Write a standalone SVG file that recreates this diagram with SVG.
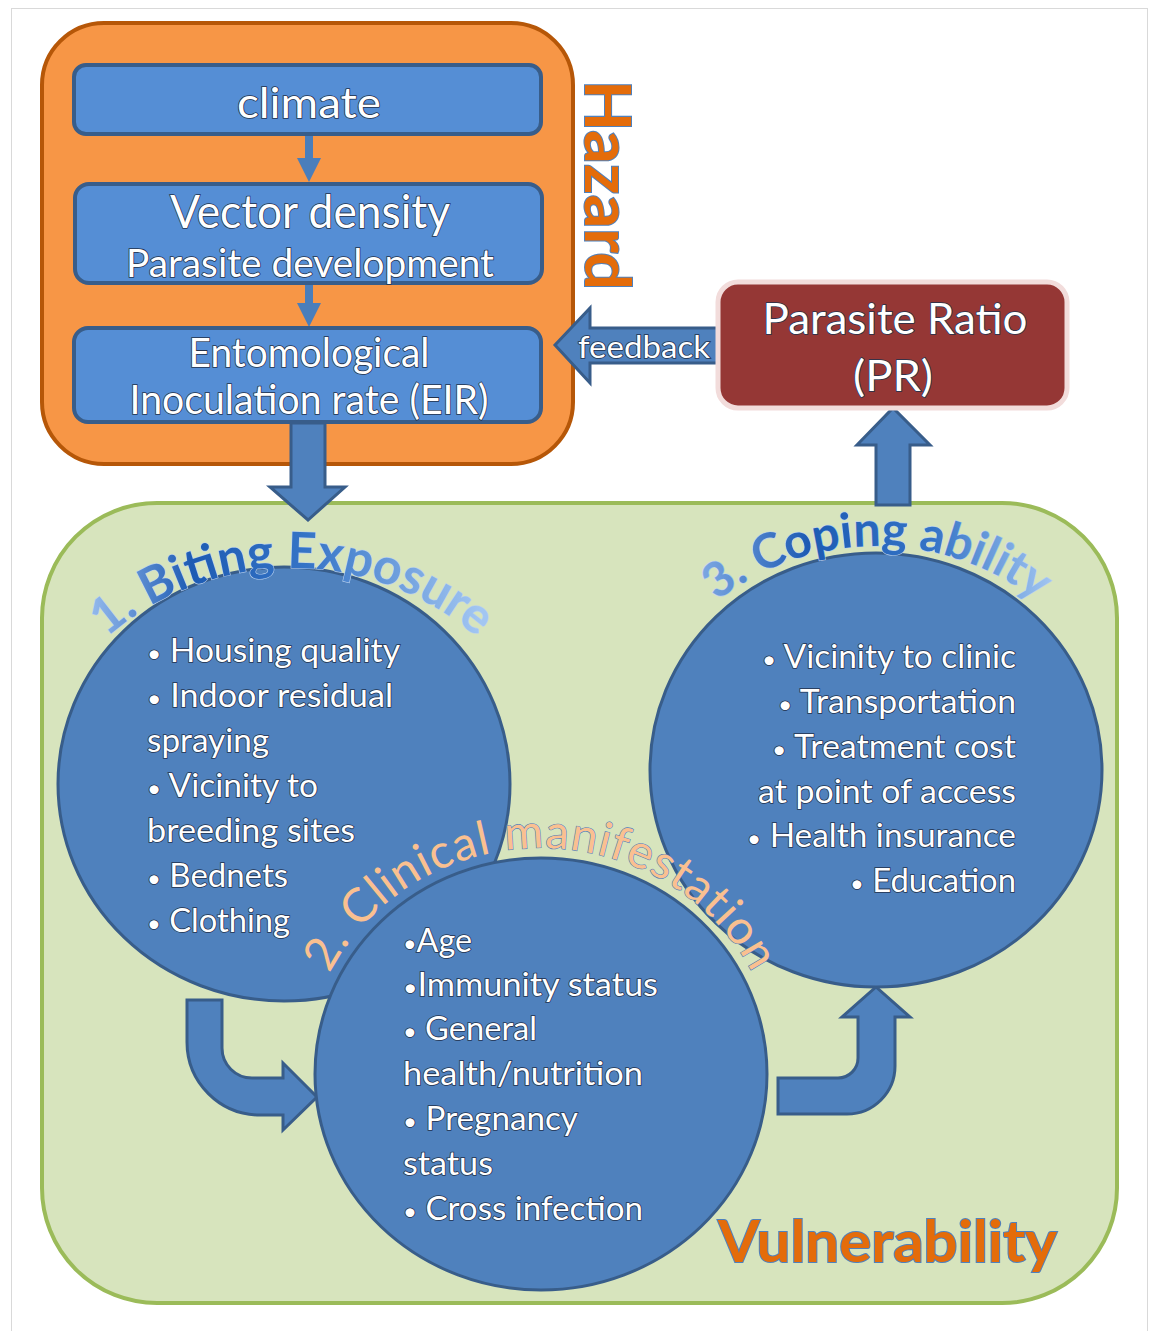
<svg xmlns="http://www.w3.org/2000/svg" width="1149" height="1331" viewBox="0 0 1149 1331">
  <defs>
    <style>
      text { font-family: Lato, "Open Sans", "Liberation Sans", sans-serif; }
      .frame { fill: #ffffff; stroke: #d9d9d9; stroke-width: 1; }
      .hazard-bg { fill: #f79646; stroke: #b65708; stroke-width: 4; }
      .vuln-bg { fill: #d7e4bd; stroke: #9bbb59; stroke-width: 4; }
      .box { fill: #558ed5; stroke: #385d8a; stroke-width: 4; }
      .circle { fill: #4f81bd; stroke: #385d8a; stroke-width: 3; }
      .pr { fill: #953735; stroke: #f2dcdb; stroke-width: 5; }
      .fat { fill: #4f81bd; stroke: #385d8a; stroke-width: 3; stroke-linejoin: miter; }
      .thin { stroke: #4a7ebb; stroke-width: 8; fill: none; }
      .w { fill: #ffffff; stroke: #22324d; stroke-width: 1.6; paint-order: stroke; }
      .dot { font-size: 24px; }
      .big { fill: #e46c0a; stroke: #4f81bd; stroke-width: 2; paint-order: stroke; font-weight: 700; }
      .arcblue { font-weight: 700; stroke: #b8d0ef; stroke-width: 1.2; paint-order: stroke; }
      .arcorange { fill: #fac090; stroke: #4f81bd; stroke-width: 1.2; paint-order: stroke; }
    </style>
    <marker id="head" markerUnits="userSpaceOnUse" markerWidth="26" markerHeight="24" refX="2" refY="12" orient="auto">
      <path d="M0,0 L24,12 L0,24 Z" fill="#4a7ebb"/>
    </marker>
    <linearGradient id="g1" gradientUnits="userSpaceOnUse" x1="95" y1="0" x2="480" y2="0">
      <stop offset="0" stop-color="#8fb6ea"/>
      <stop offset="0.25" stop-color="#1d5bb3"/>
      <stop offset="0.55" stop-color="#3574c6"/>
      <stop offset="1" stop-color="#a2c6f2"/>
    </linearGradient>
    <linearGradient id="g3" gradientUnits="userSpaceOnUse" x1="700" y1="0" x2="1060" y2="0">
      <stop offset="0" stop-color="#7ea9e3"/>
      <stop offset="0.3" stop-color="#1d5bb3"/>
      <stop offset="0.65" stop-color="#3574c6"/>
      <stop offset="1" stop-color="#a9cbf4"/>
    </linearGradient>
    <path id="arc1" d="M 47 709.5 A 283 283 0 0 1 537 709.5"/>
    <path id="arc2" d="M 305 1074 A 236 226 0 0 1 777 1074"/>
    <path id="arc3" d="M 651 676.5 A 261 261 0 0 1 1103 676.5"/>
  </defs>

  <rect class="frame" x="11.5" y="8.5" width="1136" height="1340"/>

  <!-- hazard panel -->
  <g id="hazard">
    <rect class="hazard-bg" x="42" y="23" width="531" height="441" rx="62"/>
    <text class="big" transform="translate(585,185) rotate(90)" text-anchor="middle" font-size="64" textLength="210" lengthAdjust="spacingAndGlyphs">Hazard</text>
  </g>

  <!-- vulnerability panel -->
  <g id="vulnerability">
    <rect class="vuln-bg" x="42" y="503" width="1075" height="800" rx="115"/>
    <text class="big" x="718" y="1262" font-size="58" textLength="339" lengthAdjust="spacingAndGlyphs">Vulnerability</text>
  </g>

  <!-- connectors -->
  <g id="connectors">
    <line class="thin" x1="309" y1="134" x2="309" y2="160" marker-end="url(#head)"/>
    <line class="thin" x1="309" y1="283" x2="309" y2="305" marker-end="url(#head)"/>
    <path class="fat" d="M291,423 L325,423 L325,487 L345,487 L308,520 L270,487 L291,487 Z"/>
    <path class="fat" d="M718,328 L590,328 L590,308 L555,345 L590,383 L590,363 L718,363 Z"/>
    <path class="fat" d="M876,505 L876,445 L857,445 L893,408 L930,445 L910,445 L910,505 Z"/>
    <path class="fat" d="M187,1000 L222,1000 L222,1048 A30 30 0 0 0 252,1078 L283,1078 L283,1063 L317,1097 L283,1130 L283,1115 L260,1115 A73 73 0 0 1 187,1042 Z"/>
    <path class="fat" d="M778,1078 L838,1078 A20 20 0 0 0 858,1058 L858,1017 L842,1017 L876,987 L910,1017 L895,1017 L895,1066 A48 48 0 0 1 847,1114 L778,1114 Z"/>
  </g>

  <g id="climate">
    <rect class="box" x="74" y="65" width="467" height="69" rx="12"/>
    <text class="w" x="309" y="118" text-anchor="middle" font-size="42" textLength="144" lengthAdjust="spacingAndGlyphs">climate</text>
  </g>

  <g id="vector-density">
    <rect class="box" x="75" y="184" width="467" height="99" rx="14"/>
    <text class="w" x="310" y="228" text-anchor="middle" font-size="46" textLength="280" lengthAdjust="spacingAndGlyphs">Vector density</text>
    <text class="w" x="310" y="277" text-anchor="middle" font-size="38" textLength="368" lengthAdjust="spacingAndGlyphs">Parasite development</text>
  </g>

  <g id="eir">
    <rect class="box" x="74" y="328" width="467" height="94" rx="14"/>
    <text class="w" x="309" y="367" text-anchor="middle" font-size="40" textLength="241" lengthAdjust="spacingAndGlyphs">Entomological</text>
    <text class="w" x="309" y="414" text-anchor="middle" font-size="40" textLength="359" lengthAdjust="spacingAndGlyphs">Inoculation rate (EIR)</text>
  </g>

  <g id="feedback">
    <text class="w" x="644" y="358" text-anchor="middle" font-size="30" textLength="132" lengthAdjust="spacingAndGlyphs">feedback</text>
  </g>

  <g id="parasite-ratio">
    <rect class="pr" x="718" y="282" width="349" height="126" rx="20"/>
    <text class="w" x="895" y="334" text-anchor="middle" font-size="42" textLength="265" lengthAdjust="spacingAndGlyphs">Parasite Ratio</text>
    <text class="w" x="893" y="391" text-anchor="middle" font-size="42" textLength="80" lengthAdjust="spacingAndGlyphs">(PR)</text>
  </g>

  <g id="biting-exposure">
    <ellipse class="circle" cx="284" cy="784" rx="226" ry="217"/>
    <text class="arcblue" font-size="50" fill="url(#g1)"><textPath href="#arc1" startOffset="50%" text-anchor="middle">1. Biting Exposure</textPath></text>
    <g font-size="33">
      <text class="w" x="147" y="662" textLength="253" lengthAdjust="spacingAndGlyphs"><tspan class="dot">•</tspan> Housing quality</text>
      <text class="w" x="147" y="707" textLength="246" lengthAdjust="spacingAndGlyphs"><tspan class="dot">•</tspan> Indoor residual</text>
      <text class="w" x="147" y="752" textLength="122" lengthAdjust="spacingAndGlyphs">spraying</text>
      <text class="w" x="147" y="797" textLength="171" lengthAdjust="spacingAndGlyphs"><tspan class="dot">•</tspan> Vicinity to</text>
      <text class="w" x="147" y="842" textLength="208" lengthAdjust="spacingAndGlyphs">breeding sites</text>
      <text class="w" x="147" y="887" textLength="141" lengthAdjust="spacingAndGlyphs"><tspan class="dot">•</tspan> Bednets</text>
      <text class="w" x="147" y="932" textLength="143" lengthAdjust="spacingAndGlyphs"><tspan class="dot">•</tspan> Clothing</text>
    </g>
  </g>

  <g id="coping-ability">
    <ellipse class="circle" cx="876" cy="770" rx="226" ry="217"/>
    <text class="arcblue" font-size="48" fill="url(#g3)"><textPath href="#arc3" startOffset="50%" text-anchor="middle">3. Coping ability</textPath></text>
    <g font-size="33" text-anchor="end">
      <text class="w" x="1016" y="668" textLength="254" lengthAdjust="spacingAndGlyphs"><tspan class="dot">•</tspan> Vicinity to clinic</text>
      <text class="w" x="1016" y="713" textLength="238" lengthAdjust="spacingAndGlyphs"><tspan class="dot">•</tspan> Transportation</text>
      <text class="w" x="1016" y="758" textLength="244" lengthAdjust="spacingAndGlyphs"><tspan class="dot">•</tspan> Treatment cost</text>
      <text class="w" x="1016" y="803" textLength="258" lengthAdjust="spacingAndGlyphs">at point of access</text>
      <text class="w" x="1016" y="847" textLength="269" lengthAdjust="spacingAndGlyphs"><tspan class="dot">•</tspan> Health insurance</text>
      <text class="w" x="1016" y="892" textLength="166" lengthAdjust="spacingAndGlyphs"><tspan class="dot">•</tspan> Education</text>
    </g>
  </g>

  <g id="clinical-manifestation">
    <ellipse class="circle" cx="541" cy="1074" rx="226" ry="216"/>
    <g font-size="33">
      <text class="w" x="403" y="952" textLength="69" lengthAdjust="spacingAndGlyphs"><tspan class="dot">•</tspan>Age</text>
      <text class="w" x="403" y="996" textLength="255" lengthAdjust="spacingAndGlyphs"><tspan class="dot">•</tspan>Immunity status</text>
      <text class="w" x="403" y="1040" textLength="134" lengthAdjust="spacingAndGlyphs"><tspan class="dot">•</tspan> General</text>
      <text class="w" x="403" y="1085" textLength="240" lengthAdjust="spacingAndGlyphs">health/nutrition</text>
      <text class="w" x="403" y="1130" textLength="175" lengthAdjust="spacingAndGlyphs"><tspan class="dot">•</tspan> Pregnancy</text>
      <text class="w" x="403" y="1175" textLength="90" lengthAdjust="spacingAndGlyphs">status</text>
      <text class="w" x="403" y="1220" textLength="240" lengthAdjust="spacingAndGlyphs"><tspan class="dot">•</tspan> Cross infection</text>
    </g>
    <text class="arcorange" font-size="47" letter-spacing="1"><textPath href="#arc2" startOffset="50%" text-anchor="middle">2. Clinical manifestation</textPath></text>
  </g>
</svg>
